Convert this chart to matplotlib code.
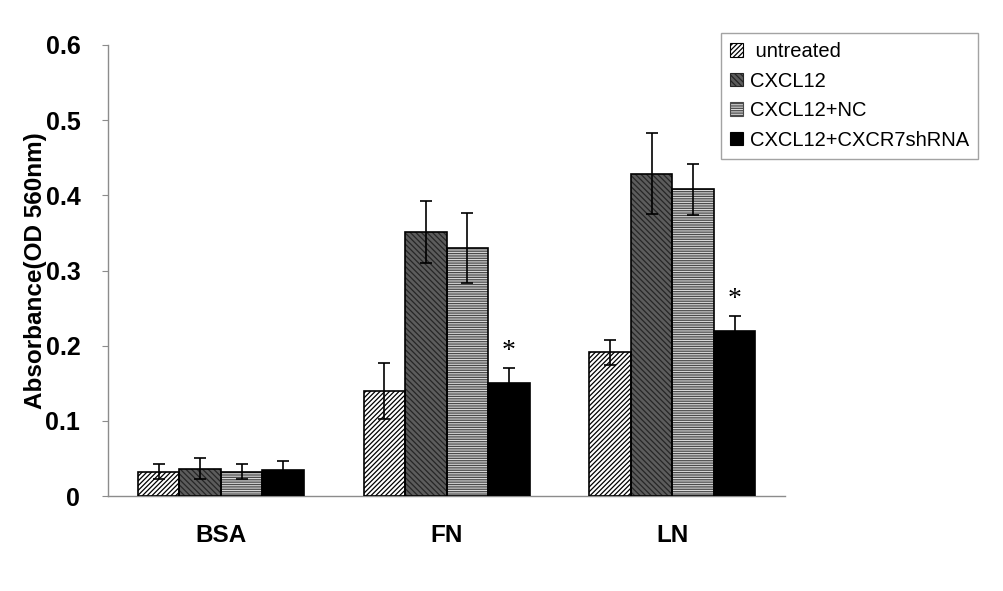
import numpy as np
import matplotlib
matplotlib.use('Agg')
import matplotlib.pyplot as plt

plt.rcParams['font.family'] = ['Liberation Sans', 'DejaVu Sans']
plt.rcParams['hatch.linewidth'] = 0.9

groups = ['BSA', 'FN', 'LN']
series = ['untreated', 'CXCL12', 'CXCL12+NC', 'CXCL12+CXCR7shRNA']
means = {
    'untreated':         [0.032, 0.140, 0.191],
    'CXCL12':            [0.036, 0.351, 0.429],
    'CXCL12+NC':         [0.032, 0.330, 0.408],
    'CXCL12+CXCR7shRNA': [0.034, 0.150, 0.220],
}
errs = {
    'untreated':         [0.010, 0.037, 0.017],
    'CXCL12':            [0.014, 0.041, 0.054],
    'CXCL12+NC':         [0.010, 0.046, 0.034],
    'CXCL12+CXCR7shRNA': [0.012, 0.020, 0.019],
}
starred = {'CXCL12+CXCR7shRNA': [False, True, True]}

styles = {
    'untreated':         dict(facecolor='white', hatch='///////', hcol='black'),
    'CXCL12':            dict(facecolor='#5c5c5c', hatch='\\\\\\\\\\\\', hcol='#262626'),
    'CXCL12+NC':         dict(facecolor='#d8d8d8', hatch='-------', hcol='#4a4a4a'),
    'CXCL12+CXCR7shRNA': dict(facecolor='black', hatch=None, hcol='black'),
}

fig = plt.figure(figsize=(10.04, 5.91), dpi=100)
ax = fig.add_axes([0.1076, 0.1607, 0.6744, 0.7632])

x = np.arange(len(groups)) + 0.5
w = 0.184
handles = []
for i, s in enumerate(series):
    pos = x + (i - 1.5) * w
    st = styles[s]
    # hatch layer
    ax.bar(pos, means[s], w, facecolor=st['facecolor'], edgecolor=st['hcol'],
           hatch=st['hatch'], linewidth=0, zorder=2)
    # outline
    ax.bar(pos, means[s], w, facecolor='none', edgecolor='black',
           linewidth=1.2, zorder=3)
    ax.errorbar(pos, means[s], yerr=errs[s], fmt='none', ecolor='black',
                elinewidth=1.2, capsize=4.2, capthick=1.2, zorder=4)
    h = plt.Rectangle((0, 0), 1, 1, facecolor=st['facecolor'], edgecolor=st['hcol'],
                      hatch=st['hatch'], linewidth=0.8)
    handles.append(h)
    if s in starred:
        for j, flag in enumerate(starred[s]):
            if flag:
                ax.text(pos[j], means[s][j] + errs[s][j] + 0.022, '*',
                        ha='center', va='center', fontsize=20,
                        family='Liberation Serif', zorder=5)

ax.set_xlim(0, 3)
ax.set_ylim(0, 0.6)
ax.set_yticks([0, 0.1, 0.2, 0.3, 0.4, 0.5, 0.6])
ax.set_yticklabels(['0', '0.1', '0.2', '0.3', '0.4', '0.5', '0.6'])
ax.set_xticks(x)
ax.set_xticklabels(groups)
for sp in ['top', 'right']:
    ax.spines[sp].set_visible(False)
for sp in ['left', 'bottom']:
    ax.spines[sp].set_color('#8c8c8c')
    ax.spines[sp].set_linewidth(1.0)
ax.tick_params(axis='y', direction='out', length=4, color='#8c8c8c',
               labelsize=18, pad=16)
ax.tick_params(axis='x', length=0, labelsize=17.5, pad=20)
for lab in ax.get_xticklabels() + ax.get_yticklabels():
    lab.set_fontweight('bold')
ax.set_ylabel('Absorbance(OD 560nm)', fontsize=17.5, fontweight='bold', labelpad=-1)

leg = fig.legend(handles, [' untreated'] + series[1:], loc='upper left',
                 bbox_to_anchor=(0.718, 0.944),
                 fontsize=14.5, frameon=True, fancybox=False, handlelength=0.65,
                 handleheight=0.65, handletextpad=0.35, labelspacing=0.52,
                 borderpad=0.45, borderaxespad=0)
leg.get_frame().set_edgecolor('#8c8c8c')
leg.get_frame().set_linewidth(1.0)

fig.savefig('out.png', dpi=100)
